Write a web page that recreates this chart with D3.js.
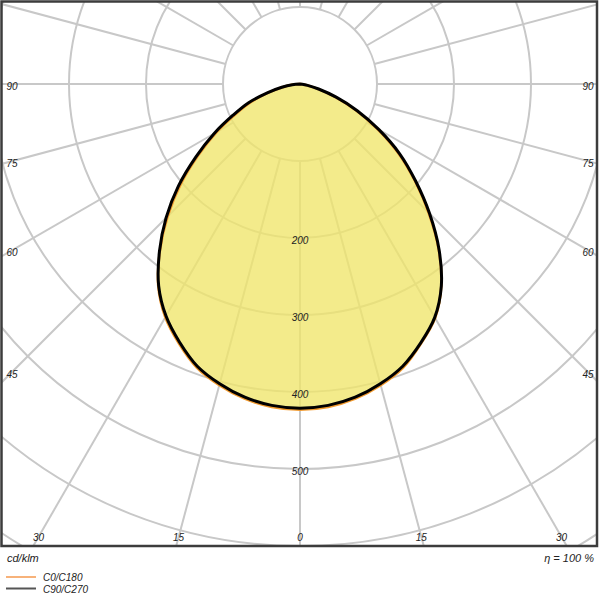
<!DOCTYPE html>
<html>
<head>
<meta charset="utf-8">
<script src="https://cdn.jsdelivr.net/npm/d3@7"></script>
<style>
  body { margin: 0; background: #fff; }
  text { font-family: "Liberation Sans", Arial, sans-serif; font-style: italic; fill: #222; }
</style>
</head>
<body>
<div id="chart"></div>
<script>
// Gamma angles (degrees from nadir) for the intensity readings
var gammas = [0, 5, 10, 15, 20, 25, 30, 35, 40, 45, 50, 55, 60, 65, 70, 75, 80, 85, 90];

// Luminous intensity in cd/klm
var c0 = [423, 421, 415, 405, 392, 372, 351, 320, 280, 236, 194, 155, 115, 79, 47, 23, 9, 3, 0];
var c180 = [423, 421, 415, 405, 392, 372, 350, 321, 283, 243, 202, 161, 125, 92, 67, 41, 22, 9, 0];
var c90 = [421, 419, 413, 403, 390, 371, 350, 320, 281, 238, 196, 158, 118, 82, 50, 25, 10, 3, 0];
var c270 = [421, 419, 413, 403, 390, 370, 348, 320, 284, 246, 206, 165, 129, 96, 71, 44, 24, 10, 0];

// Grid rings (cd/klm) and which ones carry a label
var ringValues = [100, 200, 300, 400, 500, 600, 700];
var ringLabels = [200, 300, 400, 500];

// Radial grid every 15 degrees, labels on the lower half
var radialAngles = [0, 15, 30, 45, 60, 75, 90, 105, 120, 135, 150, 165, 180,
  195, 210, 225, 240, 255, 270, 285, 300, 315, 330, 345];
var angleLabels = [-90, -75, -60, -45, -30, -15, 0, 15, 30, 45, 60, 75, 90];

var width = 600, height = 600;
var frame = { x: 1.5, y: 1.5, w: 595.5, h: 544.5 };
var cx = 300, cy = 84;

var svg = d3.select("#chart").append("svg")
  .attr("width", width)
  .attr("height", height);

svg.append("clipPath").attr("id", "frameClip")
  .append("rect")
  .attr("x", frame.x).attr("y", frame.y)
  .attr("width", frame.w).attr("height", frame.h);

var rScale = d3.scaleLinear().domain([0, 100]).range([0, 77]);
// signed gamma: negative = left half, positive = right half
var aScale = d3.scaleLinear().domain([-90, 90]).range([1.5 * Math.PI, 0.5 * Math.PI]);

var plot = svg.append("g").attr("clip-path", "url(#frameClip)");
var g = plot.append("g").attr("transform", `translate(${cx}, ${cy})`);

// radial lines, starting at the first ring
g.selectAll(".spoke")
  .data(radialAngles)
  .enter().append("line")
  .attr("x1", d => rScale(100) * Math.sin(d * Math.PI / 180))
  .attr("y1", d => rScale(100) * Math.cos(d * Math.PI / 180))
  .attr("x2", d => rScale(900) * Math.sin(d * Math.PI / 180))
  .attr("y2", d => rScale(900) * Math.cos(d * Math.PI / 180))
  .attr("stroke", "#c8c8c8")
  .attr("stroke-width", 2);

// rings
g.selectAll(".ring")
  .data(ringValues)
  .enter().append("circle")
  .attr("r", d => rScale(d))
  .attr("fill", "none")
  .attr("stroke", "#c8c8c8")
  .attr("stroke-width", 2);

// build the two curves: left half from 90 down to 0, then right half back to 90
function curvePoints(left, right) {
  var pts = [];
  for (var i = gammas.length - 1; i >= 0; i--) pts.push([-gammas[i], left[i]]);
  for (var j = 1; j < gammas.length; j++) pts.push([gammas[j], right[j]]);
  return pts;
}

var radial = d3.lineRadial()
  .angle(d => aScale(d[0]))
  .radius(d => rScale(d[1]))
  .curve(d3.curveCatmullRom);

var planeA = curvePoints(c180, c0);
var planeB = curvePoints(c270, c90);

g.append("path")
  .attr("d", radial(planeB) + "Z")
  .attr("fill", "#f0e66a")
  .attr("fill-opacity", 0.78);

g.append("path")
  .attr("d", radial(planeA) + "Z")
  .attr("fill", "none")
  .attr("stroke", "#f29a2e")
  .attr("stroke-width", 2.5);

g.append("path")
  .attr("d", radial(planeB) + "Z")
  .attr("fill", "none")
  .attr("stroke", "#000")
  .attr("stroke-width", 3);

// ring labels along the nadir
g.selectAll(".ringLabel")
  .data(ringLabels)
  .enter().append("text")
  .attr("x", 0)
  .attr("y", d => rScale(d) + 6)
  .attr("text-anchor", "middle")
  .attr("font-size", 10)
  .text(d => d);

// angle labels where the spokes meet an inset of the frame
var insetX = 12, insetY = 537;
svg.selectAll(".angleLabel")
  .data(angleLabels)
  .enter().append("text")
  .attr("font-size", 10)
  .attr("text-anchor", "middle")
  .each(function(d) {
    var a = Math.abs(d) * Math.PI / 180;
    var sx = Math.sin(a), sy = Math.cos(a);
    var x, y;
    var t = sx > 0 ? (cx - insetX) / sx : Infinity;
    if (cy + t * sy <= insetY) {
      x = cx + (d < 0 ? -1 : 1) * (cx - insetX);
      y = cy + t * sy + 2;
    } else {
      t = (insetY - cy) / sy;
      x = cx + (d < 0 ? -1 : 1) * t * sx;
      y = insetY;
    }
    d3.select(this).attr("x", x).attr("y", y + 3.5);
  })
  .text(d => Math.abs(d));

// frame
svg.append("rect")
  .attr("x", frame.x).attr("y", frame.y)
  .attr("width", frame.w).attr("height", frame.h)
  .attr("fill", "none")
  .attr("stroke", "#3c3c3c")
  .attr("stroke-width", 2.5);

// footer texts
svg.append("text").attr("x", 7).attr("y", 562).attr("font-size", 11).text("cd/klm");
svg.append("text").attr("x", 594).attr("y", 562).attr("font-size", 11)
  .attr("text-anchor", "end").text("η = 100 %");

// legend
var legendItems = [
  { name: "C0/C180", color: "#f7b27a" },
  { name: "C90/C270", color: "#555555" }
];
var legend = svg.selectAll(".legend")
  .data(legendItems)
  .enter().append("g")
  .attr("transform", (d, i) => `translate(0, ${577 + i * 11.5})`);
legend.append("line")
  .attr("x1", 6).attr("x2", 36)
  .attr("stroke", d => d.color)
  .attr("stroke-width", 2);
legend.append("text")
  .attr("x", 43).attr("y", 4)
  .attr("font-size", 10)
  .text(d => d.name);
</script>
</body>
</html>
